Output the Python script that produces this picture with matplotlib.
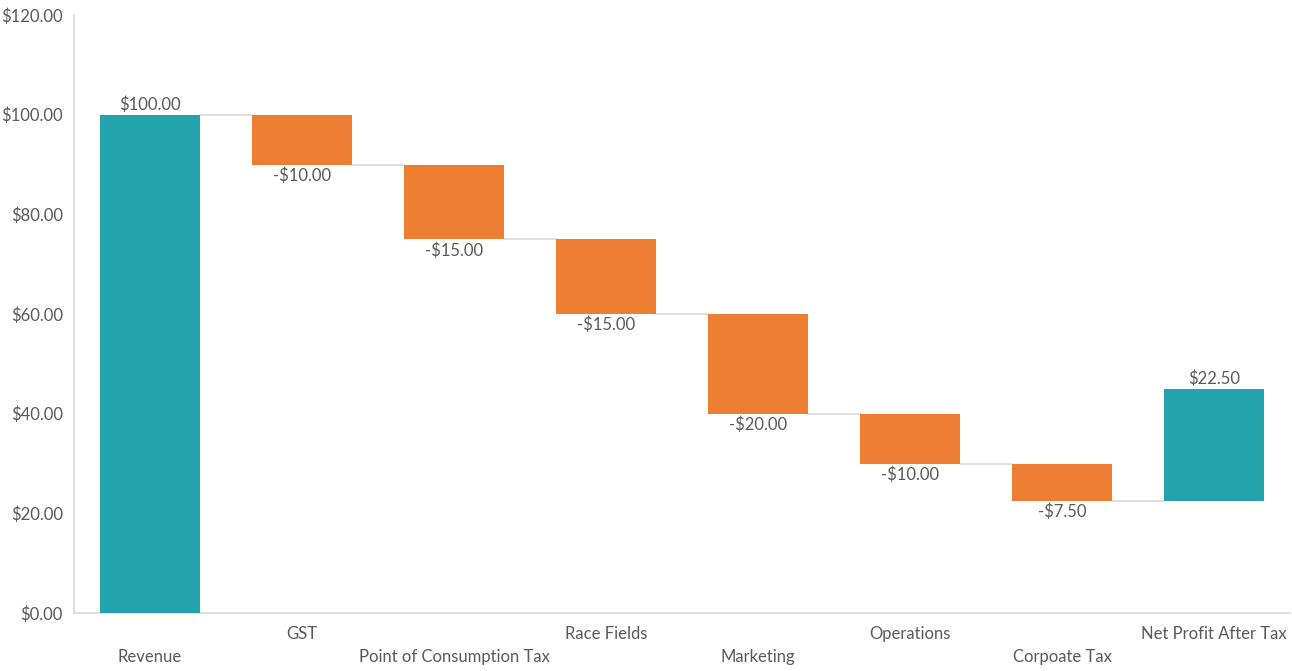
import numpy as np
import matplotlib
matplotlib.use('Agg')
import matplotlib.pyplot as plt

categories = ['Revenue', 'GST', 'Point of Consumption Tax', 'Race Fields',
              'Marketing', 'Operations', 'Corpoate Tax', 'Net Profit After Tax']
values = [100.0, -10.0, -15.0, -15.0, -20.0, -10.0, -7.5, 22.5]
is_total = [True, False, False, False, False, False, False, True]

TEAL = '#24A3AD'
ORANGE = '#ED7D31'
GREY = '#595959'


def money(v):
    return f'-${abs(v):,.2f}' if v < 0 else f'${v:,.2f}'


def main():
    plt.rcParams['font.family'] = ['Lato', 'DejaVu Sans']

    fig = plt.figure(figsize=(12.92, 6.71), dpi=100)
    ax = fig.add_axes([74 / 1292, 1 - 613 / 671, 1216 / 1292, 598 / 671])

    x = np.arange(len(categories))
    width = 0.66

    # running level after each step
    level = 0.0
    bottoms, heights, ends = [], [], []
    for v, tot in zip(values, is_total):
        if tot and level == 0:
            bottoms.append(0)
            heights.append(v)
            level = v
        elif tot:
            # the net bar sits on the running total
            bottoms.append(level)
            heights.append(v)
        else:
            bottoms.append(level + v)
            heights.append(-v)
            level += v
        ends.append(level)

    colors = [TEAL if t else ORANGE for t in is_total]
    ax.bar(x, heights, width, bottom=bottoms, color=colors, zorder=3)

    # connector lines
    for i in range(len(x) - 1):
        ax.plot([x[i] + width / 2, x[i + 1] - width / 2], [ends[i], ends[i]],
                color='#D9D9D9', lw=1.2, zorder=2)

    # value labels
    for i, (v, tot) in enumerate(zip(values, is_total)):
        top = bottoms[i] + heights[i]
        if v >= 0:
            ax.text(x[i], top + 0.4, money(v), ha='center', va='bottom',
                    fontsize=12, color=GREY)
        else:
            ax.text(x[i], bottoms[i] - 0.6, money(v), ha='center', va='top',
                    fontsize=12, color=GREY)

    # category labels in two rows
    for i, c in enumerate(categories):
        y = -4.2 if i % 2 else -8.8
        ax.text(x[i], y, c, ha='center', va='center', fontsize=12, color=GREY)

    ax.set_xlim(-0.5, len(x) - 0.5)
    ax.set_ylim(0, 120)
    ax.set_yticks(np.arange(0, 121, 20))
    ax.set_yticklabels([money(t) for t in np.arange(0, 121, 20)])
    ax.set_xticks([])
    ax.tick_params(axis='y', length=0, labelsize=12, labelcolor=GREY, pad=8)

    for s in ('top', 'right'):
        ax.spines[s].set_visible(False)
    ax.spines['left'].set_color('#D9D9D9')
    ax.spines['bottom'].set_color('#D9D9D9')
    ax.spines['left'].set_linewidth(1.2)
    ax.spines['bottom'].set_linewidth(1.2)

    fig.savefig('out.png', dpi=100)


if __name__ == '__main__':
    main()
